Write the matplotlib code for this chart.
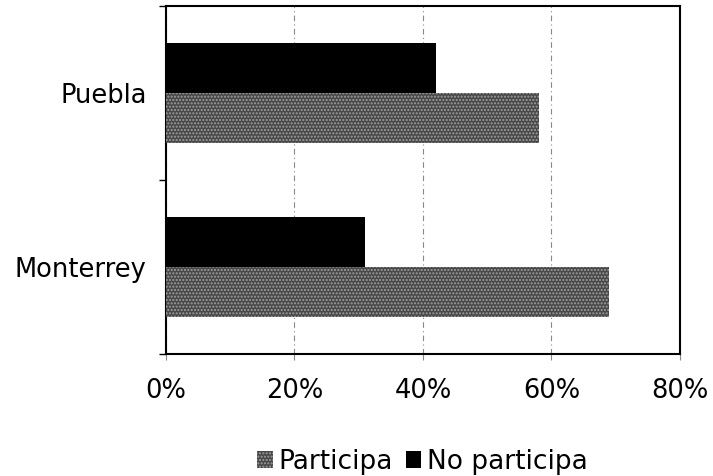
import numpy as np
import matplotlib.pyplot as plt
from matplotlib.ticker import PercentFormatter, FixedLocator

cities = ['Monterrey', 'Puebla']
participa = [69, 58]
no_participa = [31, 42]

fig = plt.figure(figsize=(7.13, 4.76), dpi=100)
ax = fig.add_axes([0.2328, 0.2563, 0.7209, 0.7311])

y = np.arange(len(cities))
h = 0.29

ax.barh(y - h / 2, participa, height=h, color='#484848', edgecolor='#a0a0a0',
        hatch='.....', linewidth=0, label='Participa', zorder=3)
ax.barh(y + h / 2, no_participa, height=h, color='black', edgecolor='black',
        linewidth=0, label='No participa', zorder=3)

ax.set_xlim(0, 80)
ax.set_ylim(-0.5, 1.5)
ax.set_xticks([0, 20, 40, 60, 80])
ax.xaxis.set_major_formatter(PercentFormatter(decimals=0))
ax.set_yticks(y)
ax.set_yticklabels(cities)
ax.yaxis.set_minor_locator(FixedLocator([-0.5, 0.5, 1.5]))

# short dashed marks where gridlines cross the bottom axis
ax.tick_params(axis='x', length=4, width=0.8, color='#888888', pad=13, labelsize=18.5)
ax.tick_params(axis='y', which='major', length=0, pad=14, labelsize=18.5)
ax.tick_params(axis='y', which='minor', length=5, width=1)

ax.grid(axis='x', color='#888888', linestyle=(0, (5, 3, 1, 3)), linewidth=0.8, zorder=0)
for s in ax.spines.values():
    s.set_linewidth(1.5)
    s.set_color('black')

fig.legend(loc='center', bbox_to_anchor=(0.592, 0.03), ncol=2, frameon=False,
           fontsize=19, handlelength=0.6, handleheight=0.6, handletextpad=0.2,
           columnspacing=0.5)

fig.savefig('out.png', dpi=100)
